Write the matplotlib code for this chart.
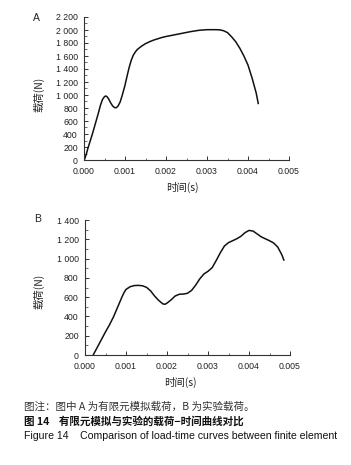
import matplotlib
matplotlib.use("Agg")
import numpy as np
from matplotlib import pyplot as plt
from matplotlib.ticker import MultipleLocator, FuncFormatter

# panel A: finite element load (s, N)
t_a = [0.00002, 0.00006, 0.0001, 0.00015, 0.0002, 0.00025, 0.0003, 0.00035,
       0.0004, 0.00045, 0.0005, 0.00053, 0.00056, 0.0006, 0.00065, 0.0007,
       0.00075, 0.00079, 0.00083, 0.00088, 0.00093, 0.001, 0.00105, 0.0011,
       0.00115, 0.0012, 0.00125, 0.0013, 0.0014, 0.0015, 0.0016, 0.0017,
       0.0018, 0.0019, 0.002, 0.0022, 0.0024, 0.0026, 0.0028, 0.003,
       0.0032, 0.0033, 0.0034, 0.0035, 0.0036, 0.0037, 0.0038, 0.0039,
       0.004, 0.0041, 0.0042, 0.00425]
f_a = [20, 100, 190, 290, 390, 500, 610, 720,
       840, 930, 975, 985, 975, 940, 880, 830,
       805, 805, 830, 890, 990, 1150, 1290, 1420,
       1530, 1610, 1660, 1700, 1750, 1790, 1820, 1845,
       1865, 1885, 1900, 1925, 1950, 1975, 1995, 2005,
       2005, 2003, 1990, 1960, 1895, 1820, 1720, 1600,
       1460, 1260, 1030, 870]

# panel B: experiment load (s, N)
t_b = [0.0002, 0.0003, 0.0004, 0.0005, 0.0006, 0.0007, 0.0008, 0.0009,
       0.00095, 0.001, 0.0011, 0.0012, 0.0013, 0.0014, 0.0015, 0.0016,
       0.0017, 0.0018, 0.0019, 0.00195, 0.002, 0.0021, 0.0022, 0.0023,
       0.0024, 0.0025, 0.0026, 0.0027, 0.0028, 0.0029, 0.003, 0.0031,
       0.0032, 0.0033, 0.0034, 0.0035, 0.0036, 0.0037, 0.0038, 0.0039,
       0.004, 0.0041, 0.0042, 0.0043, 0.0044, 0.0045, 0.0046, 0.0047,
       0.0048, 0.00485]
f_b = [0, 80, 160, 240, 315, 400, 500, 600,
       645, 680, 708, 720, 722, 718, 702, 665,
       610, 565, 530, 526, 538, 572, 612, 630,
       632, 640, 670, 725, 790, 840, 868, 905,
       980, 1060, 1130, 1165, 1185, 1205, 1230, 1268,
       1292, 1285, 1255, 1225, 1205, 1185, 1162, 1120,
       1040, 985]

x_ticks = [0.000, 0.001, 0.002, 0.003, 0.004, 0.005]

captions = ["图注：图中 A 为有限元模拟载荷，B 为实验载荷。",
            "图 14    有限元模拟与实验的载荷−时间曲线对比",
            "Figure 14    Comparison of load-time curves between finite element"]

W, H = 351, 465
txt = "#222222"
lat = ["Liberation Sans", "DejaVu Sans"]
cjk = ["Noto Sans CJK SC", "DejaVu Sans"]
plt.rcParams['font.family'] = lat

fig = plt.figure(figsize=(W / 100, H / 100), dpi=100)


def thousands(v, pos):
    s = "%d" % round(v)
    if len(s) > 3:
        s = s[:-3] + " " + s[-3:]
    return s


def setup(ax, t, f, ymax, ystep):
    ax.plot(t, f, color="#111111", lw=1.1)
    ax.set_xlim(0, 0.005)
    ax.set_ylim(0, ymax)
    ax.set_xticks(x_ticks)
    ax.set_xticklabels(["%.3f" % v for v in x_ticks])
    ax.xaxis.set_minor_locator(MultipleLocator(0.0005))
    ax.yaxis.set_major_locator(MultipleLocator(ystep))
    ax.yaxis.set_minor_locator(MultipleLocator(ystep / 2))
    ax.yaxis.set_major_formatter(FuncFormatter(thousands))
    for s in ["top", "right"]:
        ax.spines[s].set_visible(False)
    for s in ["left", "bottom"]:
        ax.spines[s].set_linewidth(0.8)
        ax.spines[s].set_color("#333333")
    ax.tick_params(which="major", direction="in", length=3, width=0.7,
                   labelsize=6.3, colors="#333333", labelcolor=txt)
    ax.tick_params(which="minor", direction="in", length=1.8, width=0.6,
                   colors="#555555")
    ax.tick_params(axis="x", which="major", pad=5)
    ax.tick_params(axis="y", which="major", pad=4.5)
    ax.set_ylabel("载荷(N)", family=cjk, fontsize=7.5, color=txt)
    ax.set_xlabel("时间(s)", family=cjk, fontsize=7.5, color=txt)


ax1 = fig.add_axes([84 / W, 1 - 160 / H, 205 / W, 143 / H])
setup(ax1, t_a, f_a, 2200, 200)
ax1.yaxis.set_label_coords(-0.195, 0.46)
ax1.xaxis.set_label_coords(0.478, -0.15)

ax2 = fig.add_axes([85 / W, 1 - 355 / H, 205 / W, 135 / H])
setup(ax2, t_b, f_b, 1400, 200)
ax2.yaxis.set_label_coords(-0.2, 0.47)
ax2.xaxis.set_label_coords(0.465, -0.165)

fig.text(36 / W, 1 - 18 / H, "A", fontsize=7.5, color=txt, ha="center", va="center")
fig.text(38 / W, 1 - 219 / H, "B", fontsize=7.5, color=txt, ha="center", va="center")

fig.text(24 / W, 1 - 407 / H, captions[0], family=cjk, fontsize=7.6,
         color="#333333", va="center")
fig.text(24 / W, 1 - 421 / H, captions[1], family=cjk, fontsize=7.6,
         color="#111111", weight="bold", va="center")
fig.text(24 / W, 1 - 436 / H, captions[2], family=lat, fontsize=7.6,
         color="#111111", va="center")

fig.savefig("out.png", dpi=100)
